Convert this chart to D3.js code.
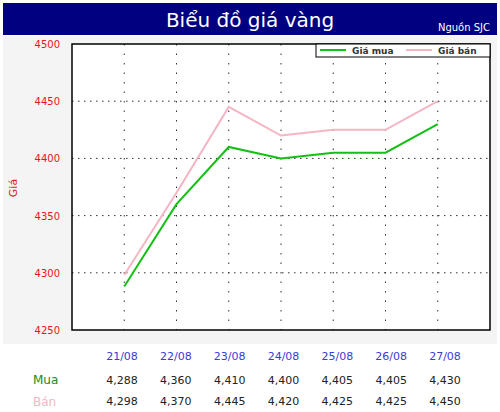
<!DOCTYPE html><html><head><meta charset="utf-8"><script src="https://cdn.jsdelivr.net/npm/d3@7"></script>
<style>body{margin:0;background:#fff}</style></head><body><svg id="c" width="500" height="412"></svg>
<script>
const dates=["21/08","22/08","23/08","24/08","25/08","26/08","27/08"];
const mua=[4288,4360,4410,4400,4405,4405,4430];
const ban=[4298,4370,4445,4420,4425,4425,4450];
const yTicks=[4250,4300,4350,4400,4450,4500];
const svg=d3.select("#c"),F="Tahoma, 'DejaVu Sans', sans-serif";
svg.append("rect").attr("x",3).attr("y",3).attr("width",494).attr("height",32).attr("fill","#000080");
svg.append("text").attr("x",250).attr("y",27).attr("text-anchor","middle").attr("fill","#fff").attr("font-family",F).attr("font-size",20).text("Biểu đồ giá vàng");
svg.append("text").attr("x",490).attr("y",31).attr("text-anchor","end").attr("fill","#fff").attr("font-family",F).attr("font-size",10).text("Nguồn SJC");
svg.append("rect").attr("x",3).attr("y",36).attr("width",494).attr("height",308).attr("fill","#f4f4f4");
const L=72,R=490,T=44,B=330;
svg.append("rect").attr("x",L).attr("y",T).attr("width",R-L).attr("height",B-T).attr("fill","#fff");
const x=d3.scalePoint().domain(dates).range([L,R]).padding(1);
const y=d3.scaleLinear().domain([4250,4500]).range([B,T]);
const g=svg.append("g");
yTicks.slice(1,-1).forEach(t=>g.append("line").attr("x1",L).attr("x2",R).attr("y1",y(t)).attr("y2",y(t)).attr("stroke","#333").attr("stroke-dasharray","1.5,4.5"));
dates.forEach(d=>g.append("line").attr("x1",x(d)).attr("x2",x(d)).attr("y1",T).attr("y2",B).attr("stroke","#333").attr("stroke-dasharray","1.5,8"));
svg.append("rect").attr("x",L).attr("y",T).attr("width",R-L).attr("height",B-T).attr("fill","none").attr("stroke","#000").attr("stroke-width",1.5);
yTicks.forEach(t=>svg.append("text").attr("x",60).attr("y",y(t)+4).attr("text-anchor","end").attr("fill","#e8141c").attr("font-family",F).attr("font-size",10).text(t));
svg.append("text").attr("transform","translate(17,188) rotate(-90)").attr("text-anchor","middle").attr("fill","#e8141c").attr("font-family",F).attr("font-size",11).text("Giá");
const line=d3.line().x((d,i)=>x(dates[i])).y(d=>y(d));
svg.append("path").datum(ban).attr("d",line).attr("fill","none").attr("stroke","#f5b5c3").attr("stroke-width",2);
svg.append("path").datum(mua).attr("d",line).attr("fill","none").attr("stroke","#14c014").attr("stroke-width",2);
const lg=svg.append("g");
lg.append("rect").attr("x",316).attr("y",44).attr("width",174).attr("height",13).attr("fill","#fff").attr("stroke","#000");
lg.append("line").attr("x1",320).attr("x2",346).attr("y1",50).attr("y2",50).attr("stroke","#14c014").attr("stroke-width",2);
lg.append("text").attr("x",352).attr("y",54).attr("font-family",F).attr("font-size",9).attr("font-weight","bold").attr("fill","#333").text("Giá mua");
lg.append("line").attr("x1",406).attr("x2",432).attr("y1",50).attr("y2",50).attr("stroke","#f5b5c3").attr("stroke-width",2);
lg.append("text").attr("x",438).attr("y",54).attr("font-family",F).attr("font-size",9).attr("font-weight","bold").attr("fill","#333").text("Giá bán");
const cx=d3.scalePoint().domain(dates).range([122,445]);
const fmt=d3.format(",");
dates.forEach((d,i)=>{
 svg.append("text").attr("x",cx(d)).attr("y",360).attr("text-anchor","middle").attr("fill","#3a3ad6").attr("font-family",F).attr("font-size",11).text(d);
 svg.append("text").attr("x",cx(d)).attr("y",384).attr("text-anchor","middle").attr("fill","#222").attr("font-family",F).attr("font-size",11).text(fmt(mua[i]));
 svg.append("text").attr("x",cx(d)).attr("y",405).attr("text-anchor","middle").attr("fill","#222").attr("font-family",F).attr("font-size",11).text(fmt(ban[i]));
});
svg.append("text").attr("x",33).attr("y",384).attr("fill","#1a8a1a").attr("font-family",F).attr("font-size",12).text("Mua");
svg.append("text").attr("x",33).attr("y",406).attr("fill","#f5b5c3").attr("font-family",F).attr("font-size",12).text("Bán");
</script></body></html>
